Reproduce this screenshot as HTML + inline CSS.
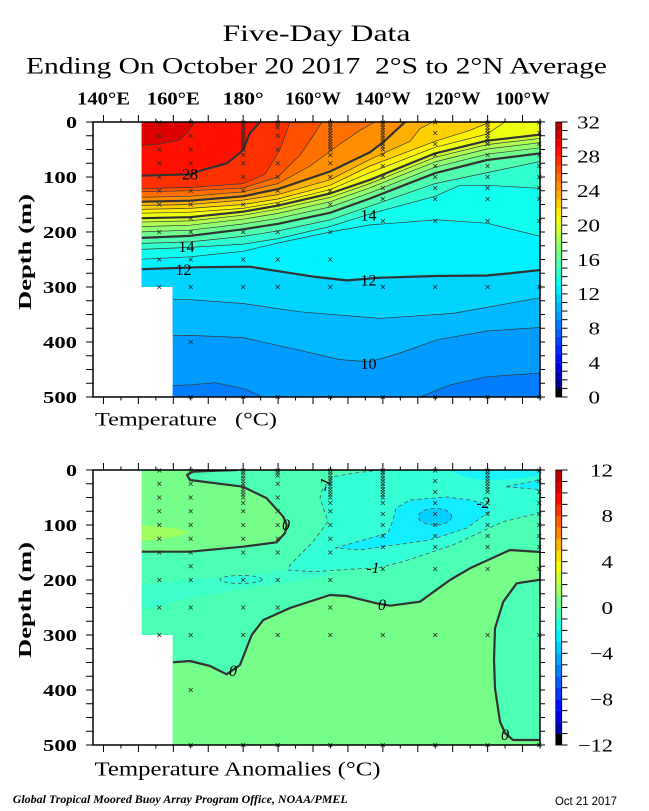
<!DOCTYPE html>
<html><head><meta charset="utf-8">
<style>
html,body{margin:0;padding:0;background:#fff}
svg{display:block}
text{font-family:"Liberation Serif",serif;fill:#000}
</style></head>
<body>
<svg width="649" height="811" viewBox="0 0 649 811" xmlns="http://www.w3.org/2000/svg" xmlns:xlink="http://www.w3.org/1999/xlink">
<defs>
<clipPath id="ct"><path d="M141.7,122H540V397H172.7V287H141.7Z"/></clipPath>
<clipPath id="cb"><path d="M141.7,470H540V745H172.7V635H141.7Z"/></clipPath>
<pattern id="pMaj" x="102.98" y="0" width="34.922" height="811" patternUnits="userSpaceOnUse"><rect width="1" height="811" fill="#000"/></pattern>
<pattern id="pMin" x="120.44" y="0" width="34.922" height="811" patternUnits="userSpaceOnUse"><rect width="1" height="811" fill="#000"/></pattern>
<pattern id="pLT" x="0" y="121.5" width="649" height="13.75" patternUnits="userSpaceOnUse"><rect width="649" height="1" fill="#000"/></pattern>
<pattern id="pLB" x="0" y="469.5" width="649" height="13.75" patternUnits="userSpaceOnUse"><rect width="649" height="1" fill="#000"/></pattern>
<pattern id="pCT" x="0" y="121.5" width="649" height="8.59375" patternUnits="userSpaceOnUse"><rect width="649" height="1" fill="#000"/></pattern>
<pattern id="pCB" x="0" y="469.5" width="649" height="11.45833" patternUnits="userSpaceOnUse"><rect width="649" height="1" fill="#000"/></pattern>
<g id="mk" stroke="#2a2a2a" stroke-width="0.8" fill="none">
<path transform="translate(159.3,0)" d="M0,122.5m-2-2l4,4m-4,0l4-4M0,135.75m-2-2l4,4m-4,0l4-4M0,149.5m-2-2l4,4m-4,0l4-4M0,163.25m-2-2l4,4m-4,0l4-4M0,177m-2-2l4,4m-4,0l4-4M0,190.75m-2-2l4,4m-4,0l4-4M0,204.5m-2-2l4,4m-4,0l4-4M0,232m-2-2l4,4m-4,0l4-4M0,259.5m-2-2l4,4m-4,0l4-4M0,287m-2-2l4,4m-4,0l4-4"/>
<path transform="translate(190.7,0)" d="M0,122.5m-2-2l4,4m-4,0l4-4M0,135.75m-2-2l4,4m-4,0l4-4M0,149.5m-2-2l4,4m-4,0l4-4M0,163.25m-2-2l4,4m-4,0l4-4M0,177m-2-2l4,4m-4,0l4-4M0,190.75m-2-2l4,4m-4,0l4-4M0,204.5m-2-2l4,4m-4,0l4-4M0,218.25m-2-2l4,4m-4,0l4-4M0,232m-2-2l4,4m-4,0l4-4M0,259.5m-2-2l4,4m-4,0l4-4M0,287m-2-2l4,4m-4,0l4-4M0,342m-2-2l4,4m-4,0l4-4M0,397m-2-2l4,4m-4,0l4-4"/>
<path transform="translate(243.2,0)" d="M0,122.5m-2-2l4,4m-4,0l4-4M0,124.75m-2-2l4,4m-4,0l4-4M0,127.5m-2-2l4,4m-4,0l4-4M0,130.25m-2-2l4,4m-4,0l4-4M0,133m-2-2l4,4m-4,0l4-4M0,135.75m-2-2l4,4m-4,0l4-4M0,138.5m-2-2l4,4m-4,0l4-4M0,141.25m-2-2l4,4m-4,0l4-4M0,144m-2-2l4,4m-4,0l4-4M0,146.75m-2-2l4,4m-4,0l4-4M0,149.5m-2-2l4,4m-4,0l4-4M0,155m-2-2l4,4m-4,0l4-4M0,163.25m-2-2l4,4m-4,0l4-4M0,177m-2-2l4,4m-4,0l4-4M0,190.75m-2-2l4,4m-4,0l4-4M0,204.5m-2-2l4,4m-4,0l4-4M0,232m-2-2l4,4m-4,0l4-4M0,259.5m-2-2l4,4m-4,0l4-4M0,287m-2-2l4,4m-4,0l4-4M0,397m-2-2l4,4m-4,0l4-4"/>
<path transform="translate(277.7,0)" d="M0,122.5m-2-2l4,4m-4,0l4-4M0,124.75m-2-2l4,4m-4,0l4-4M0,127.5m-2-2l4,4m-4,0l4-4M0,135.75m-2-2l4,4m-4,0l4-4M0,149.5m-2-2l4,4m-4,0l4-4M0,163.25m-2-2l4,4m-4,0l4-4M0,177m-2-2l4,4m-4,0l4-4M0,190.75m-2-2l4,4m-4,0l4-4M0,204.5m-2-2l4,4m-4,0l4-4M0,232m-2-2l4,4m-4,0l4-4M0,259.5m-2-2l4,4m-4,0l4-4M0,287m-2-2l4,4m-4,0l4-4M0,397m-2-2l4,4m-4,0l4-4"/>
<path transform="translate(330.3,0)" d="M0,122.5m-2-2l4,4m-4,0l4-4M0,124.75m-2-2l4,4m-4,0l4-4M0,127.5m-2-2l4,4m-4,0l4-4M0,130.25m-2-2l4,4m-4,0l4-4M0,133m-2-2l4,4m-4,0l4-4M0,135.75m-2-2l4,4m-4,0l4-4M0,138.5m-2-2l4,4m-4,0l4-4M0,141.25m-2-2l4,4m-4,0l4-4M0,144m-2-2l4,4m-4,0l4-4M0,146.75m-2-2l4,4m-4,0l4-4M0,149.5m-2-2l4,4m-4,0l4-4M0,155m-2-2l4,4m-4,0l4-4M0,163.25m-2-2l4,4m-4,0l4-4M0,177m-2-2l4,4m-4,0l4-4M0,190.75m-2-2l4,4m-4,0l4-4M0,204.5m-2-2l4,4m-4,0l4-4M0,232m-2-2l4,4m-4,0l4-4M0,259.5m-2-2l4,4m-4,0l4-4M0,287m-2-2l4,4m-4,0l4-4M0,397m-2-2l4,4m-4,0l4-4"/>
<path transform="translate(382.8,0)" d="M0,122.5m-2-2l4,4m-4,0l4-4M0,124.75m-2-2l4,4m-4,0l4-4M0,127.5m-2-2l4,4m-4,0l4-4M0,130.25m-2-2l4,4m-4,0l4-4M0,133m-2-2l4,4m-4,0l4-4M0,135.75m-2-2l4,4m-4,0l4-4M0,138.5m-2-2l4,4m-4,0l4-4M0,141.25m-2-2l4,4m-4,0l4-4M0,144m-2-2l4,4m-4,0l4-4M0,146.75m-2-2l4,4m-4,0l4-4M0,149.5m-2-2l4,4m-4,0l4-4M0,155m-2-2l4,4m-4,0l4-4M0,166m-2-2l4,4m-4,0l4-4M0,177m-2-2l4,4m-4,0l4-4M0,188m-2-2l4,4m-4,0l4-4M0,199m-2-2l4,4m-4,0l4-4M0,221m-2-2l4,4m-4,0l4-4M0,287m-2-2l4,4m-4,0l4-4M0,397m-2-2l4,4m-4,0l4-4"/>
<path transform="translate(435.2,0)" d="M0,122.5m-2-2l4,4m-4,0l4-4M0,133m-2-2l4,4m-4,0l4-4M0,144m-2-2l4,4m-4,0l4-4M0,155m-2-2l4,4m-4,0l4-4M0,166m-2-2l4,4m-4,0l4-4M0,177m-2-2l4,4m-4,0l4-4M0,188m-2-2l4,4m-4,0l4-4M0,199m-2-2l4,4m-4,0l4-4M0,221m-2-2l4,4m-4,0l4-4M0,287m-2-2l4,4m-4,0l4-4M0,397m-2-2l4,4m-4,0l4-4"/>
<path transform="translate(487.6,0)" d="M0,122.5m-2-2l4,4m-4,0l4-4M0,124.75m-2-2l4,4m-4,0l4-4M0,127.5m-2-2l4,4m-4,0l4-4M0,130.25m-2-2l4,4m-4,0l4-4M0,133m-2-2l4,4m-4,0l4-4M0,135.75m-2-2l4,4m-4,0l4-4M0,138.5m-2-2l4,4m-4,0l4-4M0,141.25m-2-2l4,4m-4,0l4-4M0,144m-2-2l4,4m-4,0l4-4M0,155m-2-2l4,4m-4,0l4-4M0,166m-2-2l4,4m-4,0l4-4M0,177m-2-2l4,4m-4,0l4-4M0,188m-2-2l4,4m-4,0l4-4M0,199m-2-2l4,4m-4,0l4-4M0,221m-2-2l4,4m-4,0l4-4M0,287m-2-2l4,4m-4,0l4-4M0,397m-2-2l4,4m-4,0l4-4"/>
<path transform="translate(539.3,0)" d="M0,122.5m-2-2l4,4m-4,0l4-4M0,133m-2-2l4,4m-4,0l4-4M0,144m-2-2l4,4m-4,0l4-4M0,155m-2-2l4,4m-4,0l4-4M0,166m-2-2l4,4m-4,0l4-4M0,177m-2-2l4,4m-4,0l4-4M0,188m-2-2l4,4m-4,0l4-4M0,199m-2-2l4,4m-4,0l4-4M0,221m-2-2l4,4m-4,0l4-4M0,287m-2-2l4,4m-4,0l4-4M0,397m-2-2l4,4m-4,0l4-4"/>
</g>
</defs>

<!-- Titles -->
<text x="316.5" y="41" text-anchor="middle" font-size="23" textLength="188" lengthAdjust="spacingAndGlyphs">Five-Day Data</text>
<text x="316.5" y="73.5" text-anchor="middle" font-size="23" textLength="581" lengthAdjust="spacingAndGlyphs" style="white-space:pre">Ending On October 20 2017  2°S to 2°N Average</text>

<!-- Longitude labels -->
<g font-weight="bold" font-size="18" text-anchor="middle">
<text x="103.5" y="104.3" textLength="53" lengthAdjust="spacingAndGlyphs">140°E</text>
<text x="173.3" y="104.3" textLength="53" lengthAdjust="spacingAndGlyphs">160°E</text>
<text x="243.2" y="104.3" textLength="41" lengthAdjust="spacingAndGlyphs">180°</text>
<text x="313" y="104.3" textLength="56" lengthAdjust="spacingAndGlyphs">160°W</text>
<text x="382.8" y="104.3" textLength="56" lengthAdjust="spacingAndGlyphs">140°W</text>
<text x="452.6" y="104.3" textLength="56" lengthAdjust="spacingAndGlyphs">120°W</text>
<text x="522.5" y="104.3" textLength="55" lengthAdjust="spacingAndGlyphs">100°W</text>
</g>

<!-- ===== TOP PLOT FILLS ===== -->
<g clip-path="url(#ct)">
<rect x="130" y="115" width="420" height="290" fill="#009bff"/>
<path fill="#007eff" d="M135,386.6L190,384.9L215,382.7L245,388.8L262,397L135,397Z"/>
<path fill="#007eff" d="M420,397L450,384.9L487,376.7L545,372.8L545,397Z"/>
<path fill="#00b8ff" d="M135,122L135,336.5L190,335.4L243,337.6L300,350.3L340,359.6L370,361.8L400,353L437,339.8L487,331L545,327.2L545,122Z"/>
<path fill="#00d4ff" d="M135,122L135,299.1L190,299.7L243,303.5L300,311.8L380,318.4L453,313.4L545,296.9L545,122Z"/>
<path fill="#00f1ff" d="M135,122L135,269.4L200,267.2L250,266.7L313,276.6L347,280.4L380,277.7L435,276L487,275.5L510,273.3L545,269.4L545,122Z"/>
<path fill="#10ffef" d="M135,122L135,259.5L190,256.8L243,251.3L278,243L330,232L370,224.9L437,219.9L487,223.2L545,237.5L545,122Z"/>
<path fill="#30ffcf" d="M135,122L135,249.6L190,247.4L243,244.1L278,238.6L330,226.5L370,213.9L435,196.3L460,185.3L487,185.3L545,188.6L545,122Z"/>
<path fill="#50ffaf" d="M135,122L135,243.6L190,241.9L243,236.4L278,230.9L330,219.9L370,206.2L435,183.6L487,172.6L545,160.5L545,122Z"/>
<path fill="#70ff8f" d="M135,122L135,238.1L190,235.9L243,229.3L278,223.8L330,212.8L370,198.5L435,173.2L487,160L545,152.8L545,122Z"/>
<path fill="#90ff70" d="M135,122L135,232.1L190,230.2L243,224L278,218.3L330,207L370,192.8L435,167.2L487,154.2L545,147.2L545,122Z"/>
<path fill="#b0ff50" d="M135,122L135,226.8L190,225.2L243,219.2L278,213.4L330,201.8L370,187.8L435,161.9L487,149L545,142.1L545,122Z"/>
<path fill="#cfff30" d="M135,122L135,222.2L190,220.9L243,215.2L278,209.2L330,197.4L370,183.5L435,157.3L487,144.6L545,137.8L545,122Z"/>
<path fill="#efff10" d="M135,122L135,218.3L190,217.2L243,211.7L278,205.6L330,193.5L370,179.8L435,153.4L487,140.7L545,134.1L545,122Z"/>
<path fill="#ffef00" d="M135,122L135,213.3L190,212.2L243,208.4L278,202.3L330,189.7L370,172.6L435,147.3L487,134.1L505,122Z"/>
<path fill="#ffcf00" d="M135,122L135,209.5L190,208.4L243,204.5L278,199L330,185.3L370,166L435,141.3L470,130.3L490,122Z"/>
<path fill="#ffaf00" d="M135,122L135,205.6L190,204.5L243,200.1L278,194.6L330,179.8L370,159.4L410,141.3L420,128.6L433,122Z"/>
<path fill="#ff8f00" d="M135,122L135,201.8L190,200.7L243,196.3L278,189.1L330,171.5L370,152.3L383,142.4L405,122Z"/>
<path fill="#ff7000" d="M135,122L135,197.4L190,196.3L243,191.9L278,183.6L310,166L340,144L360,130.3L375,122Z"/>
<path fill="#ff5000" d="M135,122L135,191.9L190,190.8L243,188L278,177L300,155L315,133L322,122Z"/>
<path fill="#ff3000" d="M135,122L135,188.6L190,187.5L243,183.6L265,174.3L280,149.5L290,122Z"/>
<path fill="#ff1000" d="M135,122L135,175.9L190,174.3L203,169.9L227,163.3L243,150.1L250,133L260,122Z"/>
<path fill="#dc0000" d="M135,122L135,146.2L160,144L180,140L187,133L195,122Z"/>

<g fill="none" stroke="#3a3a3a" stroke-width="0.7" stroke-linejoin="round">
<polyline points="135,386.6 190,384.9 215,382.7 245,388.8 262,397"/>
<polyline points="420,397 450,384.9 487,376.7 545,372.8"/>
<polyline points="135,336.5 190,335.4 243,337.6 300,350.3 340,359.6 370,361.8 400,353 437,339.8 487,331 545,327.2"/>
<polyline points="135,299.1 190,299.7 243,303.5 300,311.8 380,318.4 453,313.4 545,296.9"/>
<polyline points="135,259.5 190,256.8 243,251.3 278,243 330,232 370,224.9 437,219.9 487,223.2 545,237.5"/>
<polyline points="135,249.6 190,247.4 243,244.1 278,238.6 330,226.5 370,213.9 435,196.3 460,185.3 487,185.3 545,188.6"/>
<polyline points="135,243.6 190,241.9 243,236.4 278,230.9 330,219.9 370,206.2 435,183.6 487,172.6 545,160.5"/>
<polyline points="135,232.1 190,230.2 243,224 278,218.3 330,207 370,192.8 435,167.2 487,154.2 545,147.2"/>
<polyline points="135,226.8 190,225.2 243,219.2 278,213.4 330,201.8 370,187.8 435,161.9 487,149 545,142.1"/>
<polyline points="135,222.2 190,220.9 243,215.2 278,209.2 330,197.4 370,183.5 435,157.3 487,144.6 545,137.8"/>
<polyline points="135,213.3 190,212.2 243,208.4 278,202.3 330,189.7 370,172.6 435,147.3 487,134.1 505,122"/>
<polyline points="135,209.5 190,208.4 243,204.5 278,199 330,185.3 370,166 435,141.3 470,130.3 490,122"/>
<polyline points="135,205.6 190,204.5 243,200.1 278,194.6 330,179.8 370,159.4 410,141.3 420,128.6 433,122"/>
<polyline points="135,197.4 190,196.3 243,191.9 278,183.6 310,166 340,144 360,130.3 375,122"/>
<polyline points="135,191.9 190,190.8 243,188 278,177 300,155 315,133 322,122"/>
<polyline points="135,188.6 190,187.5 243,183.6 265,174.3 280,149.5 290,122"/>
<polyline points="135,146.2 160,144 180,140 187,133 195,122"/>
</g>
<g fill="none" stroke="#333" stroke-width="2.2" stroke-linejoin="round">
<polyline points="135,269.4 200,267.2 250,266.7 313,276.6 347,280.4 380,277.7 435,276 487,275.5 510,273.3 545,269.4"/>
<polyline points="135,238.1 190,235.9 243,229.3 278,223.8 330,212.8 370,198.5 435,173.2 487,160 545,152.8"/>
<polyline points="135,218.3 190,217.2 243,211.7 278,205.6 330,193.5 370,179.8 435,153.4 487,140.7 545,134.1"/>
<polyline points="135,201.8 190,200.7 243,196.3 278,189.1 330,171.5 370,152.3 383,142.4 405,122"/>
<polyline points="135,175.9 190,174.3 203,169.9 227,163.3 243,150.1 250,133 260,122"/>
</g>
</g>
<g font-size="16" text-anchor="middle">
<text x="190" y="179.5">28</text>
<text x="186.5" y="252">14</text>
<text x="183.5" y="275">12</text>
<text x="368.5" y="220.5">14</text>
<text x="368.5" y="285.5">12</text>
<text x="368.5" y="369">10</text>
</g>

<!-- ===== BOTTOM PLOT FILLS ===== -->
<g clip-path="url(#cb)">
<rect x="130" y="465" width="420" height="290" fill="#4bffb4"/>
<path fill="#3cffcb" d="M141.7,585L190,580L250,575L300,568L330,566L330,576L250,588L190,598L141.7,610Z"/>
<path fill="#75ff8a" d="M135,470L237,470L215,470.8L193,471.7L187,475L190,480L243,486.7L266.7,498.3L283.3,516.7L286.7,525L285,533L276.7,542.3L243,546.7L190,551.7L135,551.7Z"/>
<path fill="#a0ff60" d="M135,525Q170,526 190,532Q170,540 135,541Z"/>
<path fill="#75ff8a" d="M172.7,662.3L190,661L210,666L226.7,674.3L240,665L251.7,635L263.3,620L290,608L330,595L346.7,596L376.7,603.3L390,605.7L420,601.7L450,580L470,568.3L510,550L545,552.3L545,579L516.7,583.3L503.3,601.7L495,628.3L494,660L495,688.3L500,721.7L505,733L513,740L545,740L545,750L172.7,750Z"/>
<path fill="#35ffd4" d="M380,470L355,473L333,476.7L322,490L320,498L328,521.7L313,541.7L290,565L288,570L313,571.7L366.7,568.3L376.7,568.3L403,561.7L453,545L503,521.7L545,511.7L545,470Z"/>
<path fill="#18f2f8" d="M450,470Q470,482 500,480Q530,478 545,474L545,470Z"/>
<path fill="#12eeff" d="M335,548L360,541L388,533L393,520L396,508L410,500L447,497L470,500L483,503L490,511L467,528L430,540L388,546L360,550Z"/>
<ellipse cx="435" cy="516.7" rx="16.7" ry="8.3" fill="#05cfff"/>
<ellipse cx="241" cy="579.5" rx="21" ry="4" fill="#30ffd8"/>
<path fill="#15f0ff" d="M545,479L505,486.7L545,490Z"/>
<g fill="none" stroke="#333" stroke-width="2.2" stroke-linejoin="round">
<polyline points="237,470 215,470.8 193,471.7 187,475 190,480 243,486.7 266.7,498.3 283.3,516.7 286.7,525 285,533 276.7,542.3 243,546.7 190,551.7 135,551.7"/>
<polyline points="172.7,662.3 190,661 210,666 226.7,674.3 240,665 251.7,635 263.3,620 290,608 330,595 346.7,596 376.7,603.3 390,605.7 420,601.7 450,580 470,568.3 510,550 545,552.3"/>
<polyline points="545,579 516.7,583.3 503.3,601.7 495,628.3 494,660 495,688.3 500,721.7 505,733 513,740 545,740"/>
</g>
<g fill="none" stroke="#555" stroke-width="0.8" stroke-dasharray="4,3">
<polyline points="380,470 355,473 333,476.7 322,490 320,498 328,521.7 313,541.7 290,565 288,570 313,571.7 366.7,568.3 376.7,568.3 403,561.7 453,545 503,521.7 545,511.7"/>
<path d="M335,548L360,541L388,533L393,520L396,508L410,500L447,497L470,500L483,503L490,511L467,528L430,540L388,546L360,550Z"/>
<ellipse cx="435" cy="516.7" rx="16.7" ry="8.3"/>
<ellipse cx="241" cy="579.5" rx="21" ry="4"/>
<polyline points="545,479 505,486.7 545,490"/>
</g>
</g>
<g font-size="16" font-style="italic" text-anchor="middle">
<text x="286" y="530">0</text>
<text x="233" y="676">0</text>
<text x="382" y="610">0</text>
<text x="505" y="740">0</text>
<text x="373" y="573">-1</text>
<text x="483" y="508">-2</text>
<text transform="translate(330,486) rotate(-75)">-1</text>
</g>

<!-- marks -->
<use xlink:href="#mk" href="#mk"/>
<use xlink:href="#mk" href="#mk" y="348"/>

<!-- ===== AXES TOP ===== -->
<rect x="93" y="122" width="447" height="275" fill="none" stroke="#000" stroke-width="1.5"/>
<rect x="98" y="115" width="446" height="7" fill="url(#pMaj)"/>
<rect x="98" y="118.5" width="446" height="3.5" fill="url(#pMin)"/>
<rect x="98" y="397" width="446" height="7" fill="url(#pMaj)"/>
<rect x="98" y="397" width="446" height="3.5" fill="url(#pMin)"/>
<rect x="86" y="121.5" width="7" height="276.2" fill="url(#pLT)"/>
<rect x="540" y="121.5" width="5" height="276.2" fill="url(#pLT)"/>

<!-- ===== AXES BOTTOM ===== -->
<rect x="93" y="470" width="447" height="275" fill="none" stroke="#000" stroke-width="1.5"/>
<rect x="98" y="463" width="446" height="7" fill="url(#pMaj)"/>
<rect x="98" y="466.5" width="446" height="3.5" fill="url(#pMin)"/>
<rect x="98" y="745" width="446" height="7" fill="url(#pMaj)"/>
<rect x="98" y="745" width="446" height="3.5" fill="url(#pMin)"/>
<rect x="86" y="469.5" width="7" height="276.2" fill="url(#pLB)"/>
<rect x="540" y="469.5" width="5" height="276.2" fill="url(#pLB)"/>

<!-- depth labels -->
<g font-weight="bold" font-size="17" text-anchor="end">
<text x="77" y="128" textLength="11" lengthAdjust="spacingAndGlyphs">0</text>
<text x="77" y="183" textLength="34" lengthAdjust="spacingAndGlyphs">100</text>
<text x="77" y="238" textLength="34" lengthAdjust="spacingAndGlyphs">200</text>
<text x="77" y="293" textLength="34" lengthAdjust="spacingAndGlyphs">300</text>
<text x="77" y="348" textLength="34" lengthAdjust="spacingAndGlyphs">400</text>
<text x="77" y="403" textLength="34" lengthAdjust="spacingAndGlyphs">500</text>
<text x="77" y="476" textLength="11" lengthAdjust="spacingAndGlyphs">0</text>
<text x="77" y="531" textLength="34" lengthAdjust="spacingAndGlyphs">100</text>
<text x="77" y="586" textLength="34" lengthAdjust="spacingAndGlyphs">200</text>
<text x="77" y="641" textLength="34" lengthAdjust="spacingAndGlyphs">300</text>
<text x="77" y="696" textLength="34" lengthAdjust="spacingAndGlyphs">400</text>
<text x="77" y="751" textLength="34" lengthAdjust="spacingAndGlyphs">500</text>
</g>
<text transform="translate(31,252) rotate(-90)" text-anchor="middle" font-weight="bold" font-size="18" textLength="116" lengthAdjust="spacingAndGlyphs">Depth (m)</text>
<text transform="translate(31,600) rotate(-90)" text-anchor="middle" font-weight="bold" font-size="18" textLength="116" lengthAdjust="spacingAndGlyphs">Depth (m)</text>

<text x="95" y="425.5" font-size="19" textLength="182" lengthAdjust="spacingAndGlyphs" style="white-space:pre">Temperature   (°C)</text>
<text x="94.5" y="775.5" font-size="20" textLength="286" lengthAdjust="spacingAndGlyphs">Temperature Anomalies (°C)</text>

<!-- ===== COLORBAR TOP ===== -->
<g>
<rect x="556" y="388.41" width="5.5" height="8.7" fill="#000000"/>
<rect x="556" y="379.81" width="5.5" height="8.7" fill="#00008c"/>
<rect x="556" y="371.22" width="5.5" height="8.7" fill="#0000b4"/>
<rect x="556" y="362.63" width="5.5" height="8.7" fill="#0000dc"/>
<rect x="556" y="354.03" width="5.5" height="8.7" fill="#000eff"/>
<rect x="556" y="345.44" width="5.5" height="8.7" fill="#002aff"/>
<rect x="556" y="336.84" width="5.5" height="8.7" fill="#0046ff"/>
<rect x="556" y="328.25" width="5.5" height="8.7" fill="#0062ff"/>
<rect x="556" y="319.66" width="5.5" height="8.7" fill="#007eff"/>
<rect x="556" y="311.06" width="5.5" height="8.7" fill="#009bff"/>
<rect x="556" y="302.47" width="5.5" height="8.7" fill="#00b8ff"/>
<rect x="556" y="293.88" width="5.5" height="8.7" fill="#00d4ff"/>
<rect x="556" y="285.28" width="5.5" height="8.7" fill="#00f1ff"/>
<rect x="556" y="276.69" width="5.5" height="8.7" fill="#10ffef"/>
<rect x="556" y="268.09" width="5.5" height="8.7" fill="#30ffcf"/>
<rect x="556" y="259.5" width="5.5" height="8.7" fill="#50ffaf"/>
<rect x="556" y="250.91" width="5.5" height="8.7" fill="#70ff8f"/>
<rect x="556" y="242.31" width="5.5" height="8.7" fill="#90ff70"/>
<rect x="556" y="233.72" width="5.5" height="8.7" fill="#b0ff50"/>
<rect x="556" y="225.13" width="5.5" height="8.7" fill="#cfff30"/>
<rect x="556" y="216.53" width="5.5" height="8.7" fill="#efff10"/>
<rect x="556" y="207.94" width="5.5" height="8.7" fill="#ffef00"/>
<rect x="556" y="199.34" width="5.5" height="8.7" fill="#ffcf00"/>
<rect x="556" y="190.75" width="5.5" height="8.7" fill="#ffaf00"/>
<rect x="556" y="182.16" width="5.5" height="8.7" fill="#ff8f00"/>
<rect x="556" y="173.56" width="5.5" height="8.7" fill="#ff7000"/>
<rect x="556" y="164.97" width="5.5" height="8.7" fill="#ff5000"/>
<rect x="556" y="156.38" width="5.5" height="8.7" fill="#ff3000"/>
<rect x="556" y="147.78" width="5.5" height="8.7" fill="#ff1000"/>
<rect x="556" y="139.19" width="5.5" height="8.7" fill="#ef0000"/>
<rect x="556" y="130.59" width="5.5" height="8.7" fill="#cf0000"/>
<rect x="556" y="122" width="5.5" height="8.7" fill="#b00000"/>
<rect x="555.8" y="122" width="5.9" height="275" fill="none" stroke="#000" stroke-width="0.8"/>
<rect x="561.5" y="121.5" width="6" height="276.2" fill="url(#pCT)"/>
</g>
<g font-size="18" text-anchor="end">
<text x="600" y="128.3" textLength="23" lengthAdjust="spacingAndGlyphs">32</text>
<text x="600" y="162.7" textLength="23" lengthAdjust="spacingAndGlyphs">28</text>
<text x="600" y="197" textLength="23" lengthAdjust="spacingAndGlyphs">24</text>
<text x="600" y="231.4" textLength="23" lengthAdjust="spacingAndGlyphs">20</text>
<text x="600" y="265.8" textLength="23" lengthAdjust="spacingAndGlyphs">16</text>
<text x="600" y="300.2" textLength="23" lengthAdjust="spacingAndGlyphs">12</text>
<text x="600" y="334.5" textLength="11.5" lengthAdjust="spacingAndGlyphs">8</text>
<text x="600" y="368.9" textLength="11.5" lengthAdjust="spacingAndGlyphs">4</text>
<text x="600" y="403.3" textLength="11.5" lengthAdjust="spacingAndGlyphs">0</text>
</g>

<!-- ===== COLORBAR BOTTOM ===== -->
<g>
<rect x="556" y="733.54" width="5.5" height="11.6" fill="#000000"/>
<rect x="556" y="722.08" width="5.5" height="11.6" fill="#0000b4"/>
<rect x="556" y="710.63" width="5.5" height="11.6" fill="#0000e6"/>
<rect x="556" y="699.17" width="5.5" height="11.6" fill="#0012ff"/>
<rect x="556" y="687.71" width="5.5" height="11.6" fill="#0038ff"/>
<rect x="556" y="676.25" width="5.5" height="11.6" fill="#005dff"/>
<rect x="556" y="664.79" width="5.5" height="11.6" fill="#0084ff"/>
<rect x="556" y="653.33" width="5.5" height="11.6" fill="#00a9ff"/>
<rect x="556" y="641.88" width="5.5" height="11.6" fill="#00cfff"/>
<rect x="556" y="630.42" width="5.5" height="11.6" fill="#00f5ff"/>
<rect x="556" y="618.96" width="5.5" height="11.6" fill="#20ffdf"/>
<rect x="556" y="607.5" width="5.5" height="11.6" fill="#4bffb4"/>
<rect x="556" y="596.04" width="5.5" height="11.6" fill="#75ff8a"/>
<rect x="556" y="584.58" width="5.5" height="11.6" fill="#a0ff60"/>
<rect x="556" y="573.13" width="5.5" height="11.6" fill="#caff35"/>
<rect x="556" y="561.67" width="5.5" height="11.6" fill="#f5ff0a"/>
<rect x="556" y="550.21" width="5.5" height="11.6" fill="#ffdf00"/>
<rect x="556" y="538.75" width="5.5" height="11.6" fill="#ffb500"/>
<rect x="556" y="527.29" width="5.5" height="11.6" fill="#ff8a00"/>
<rect x="556" y="515.83" width="5.5" height="11.6" fill="#ff6000"/>
<rect x="556" y="504.38" width="5.5" height="11.6" fill="#ff3500"/>
<rect x="556" y="492.92" width="5.5" height="11.6" fill="#ff0a00"/>
<rect x="556" y="481.46" width="5.5" height="11.6" fill="#d50000"/>
<rect x="556" y="470" width="5.5" height="11.6" fill="#b50000"/>
<rect x="555.8" y="470" width="5.9" height="275" fill="none" stroke="#000" stroke-width="0.8"/>
<rect x="561.5" y="469.5" width="6" height="276.2" fill="url(#pCB)"/>
</g>
<g font-size="18" text-anchor="end">
<text x="613" y="476.3" textLength="23" lengthAdjust="spacingAndGlyphs">12</text>
<text x="613" y="522.1" textLength="11.5" lengthAdjust="spacingAndGlyphs">8</text>
<text x="613" y="568" textLength="11.5" lengthAdjust="spacingAndGlyphs">4</text>
<text x="613" y="613.8" textLength="11.5" lengthAdjust="spacingAndGlyphs">0</text>
<text x="613" y="659.6" textLength="23" lengthAdjust="spacingAndGlyphs">−4</text>
<text x="613" y="705.5" textLength="23" lengthAdjust="spacingAndGlyphs">−8</text>
<text x="613" y="751.3" textLength="35" lengthAdjust="spacingAndGlyphs">−12</text>
</g>

<!-- footer -->
<text x="12.7" y="803" font-size="12" font-weight="bold" font-style="italic" textLength="335" lengthAdjust="spacingAndGlyphs">Global Tropical Moored Buoy Array Program Office, NOAA/PMEL</text>
<text x="555" y="805" font-size="12" textLength="62" lengthAdjust="spacingAndGlyphs" style="font-family:'Liberation Sans',sans-serif">Oct 21 2017</text>
</svg>
</body></html>
